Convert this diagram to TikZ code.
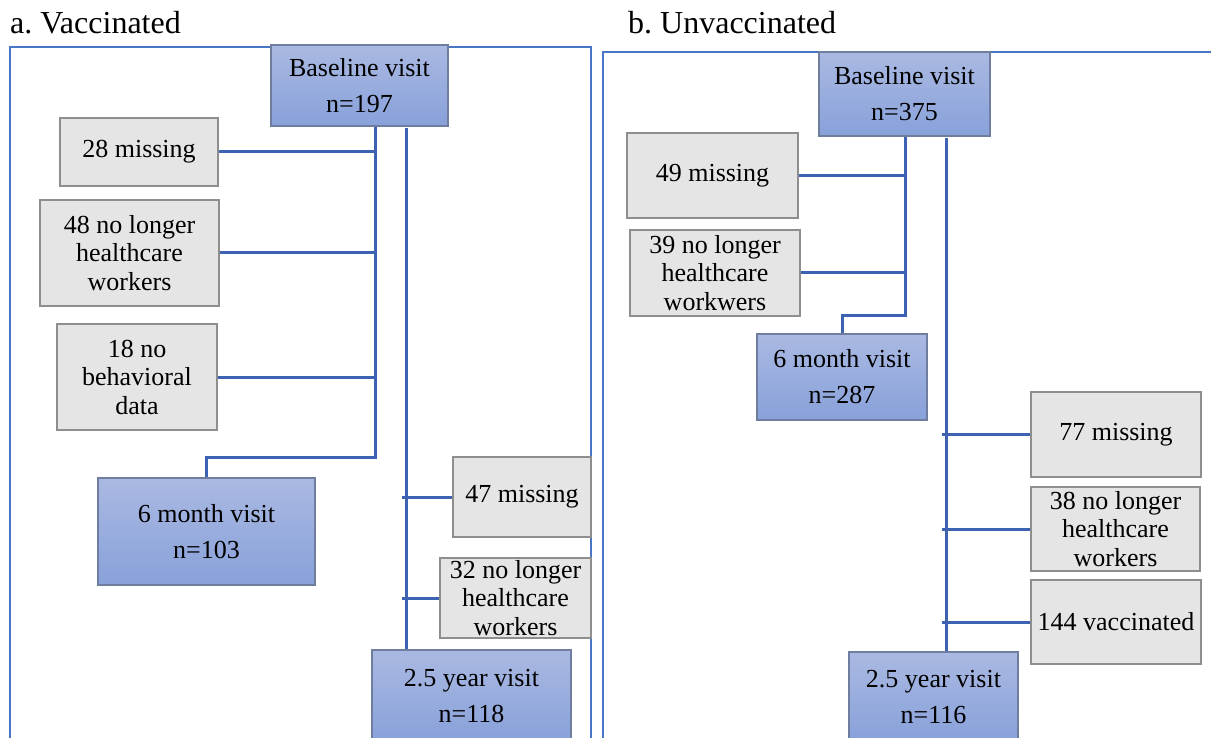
\documentclass[tikz,border=0pt]{standalone}
\usepackage{fontspec}
\setmainfont{Liberation Serif}
\usetikzlibrary{positioning}
\definecolor{visittop}{HTML}{AAB9E2}
\definecolor{visitbot}{HTML}{88A1DA}
\definecolor{visitedge}{HTML}{6F7E9E}
\definecolor{exclfill}{HTML}{E5E5E5}
\definecolor{excledge}{HTML}{8E8E8E}
\definecolor{linkblue}{HTML}{3D62B2}
\definecolor{frameblue}{HTML}{4A76C6}

\begin{document}
\begin{tikzpicture}[x=1pt, y=-1pt]
    % Styles
    \tikzstyle{visit} = [rectangle, draw=visitedge, line width=1.5pt, top color=visittop, bottom color=visitbot, align=center, inner sep=0pt, font=\fontsize{26}{36}\selectfont]
    \tikzstyle{excl} = [rectangle, draw=excledge, line width=1.5pt, fill=exclfill, align=center, inner sep=0pt, font=\fontsize{26}{28.5}\selectfont]
    \tikzstyle{line} = [draw, line width=3pt, linkblue]
    \tikzstyle{panel} = [draw, line width=2pt, frameblue]
    \tikzstyle{title} = [anchor=base west, inner sep=0pt, font=\fontsize{32}{36}\selectfont]

    \useasboundingbox (0,0) rectangle (1211,738);
    \clip (0,0) rectangle (1211,738);

    % Frames and titles
    \path [panel] (10,760) -- (10,47) -- (591,47) -- (591,760);
    \path [panel] (603,760) -- (603,52) -- (1240,52);
    \node [title] (titlea) at (10,34) {a.\ Vaccinated};
    \node [title] (titleb) at (628,34) {b.\ Unvaccinated};

    % Nodes: vaccinated
    \node [visit, minimum width=177pt, minimum height=81pt] (basea) at (359.5,85.5) {Baseline visit\\n=197};
    \node [excl, minimum width=158pt, minimum height=68pt] (miss28a) at (139,152) {28 missing};
    \node [excl, minimum width=179pt, minimum height=106pt] (hcw48a) at (129.5,253) {48 no longer\\healthcare\\workers};
    \node [excl, minimum width=160pt, minimum height=106pt] (beh18a) at (137,377) {18 no\\behavioral\\data};
    \node [visit, minimum width=217pt, minimum height=107pt] (sixa) at (206.5,531.5) {6 month visit\\n=103};
    \node [excl, minimum width=138pt, minimum height=80pt] (miss47a) at (522,497) {47 missing};
    \node [excl, minimum width=151pt, minimum height=80pt] (hcw32a) at (515.5,598) {32 no longer\\healthcare\\workers};
    \node [visit, minimum width=199pt, minimum height=92pt] (yeara) at (471.5,696) {2.5 year visit\\n=118};

    % Nodes: unvaccinated
    \node [visit, minimum width=171pt, minimum height=84pt] (baseb) at (904.5,94) {Baseline visit\\n=375};
    \node [excl, minimum width=171pt, minimum height=85pt] (miss49b) at (712.5,175.5) {49 missing};
    \node [excl, minimum width=170pt, minimum height=86pt] (hcw39b) at (715,273) {39 no longer\\healthcare\\workwers};
    \node [visit, minimum width=170pt, minimum height=86pt] (sixb) at (842,377) {6 month visit\\n=287};
    \node [excl, minimum width=170pt, minimum height=85pt] (miss77b) at (1116,434.5) {77 missing};
    \node [excl, minimum width=169pt, minimum height=84pt] (hcw38b) at (1115.5,529) {38 no longer\\healthcare\\workers};
    \node [excl, minimum width=170pt, minimum height=84pt] (vac144b) at (1116,622) {144 vaccinated};
    \node [visit, minimum width=169pt, minimum height=90pt] (yearb) at (933.5,697) {2.5 year visit\\n=116};

    % Paths: vaccinated
    \coordinate (ja) at (375,457);
    \coordinate (ka) at (406,128);
    \path [line] (basea.south -| ja) -- (ja) -| (sixa.north);
    \path [line] (miss28a.east) -- (miss28a.east -| ja);
    \path [line] (hcw48a.east) -- (hcw48a.east -| ja);
    \path [line] (beh18a.east) -- (beh18a.east -| ja);
    \path [line] (ka) -- (ka |- yeara.north);
    \path [line] ([xshift=-4pt]ka |- miss47a.west) -- (miss47a.west);
    \path [line] ([xshift=-4pt]ka |- hcw32a.west) -- (hcw32a.west);

    % Paths: unvaccinated
    \coordinate (jb) at (905,316);
    \coordinate (kb) at (946,138);
    \path [line] (baseb.south -| jb) -- (jb) -| (sixb.north);
    \path [line] (miss49b.east) -- (miss49b.east -| jb);
    \path [line] (hcw39b.east) -- (hcw39b.east -| jb);
    \path [line] (kb) -- (kb |- yearb.north);
    \path [line] ([xshift=-4pt]kb |- miss77b.west) -- (miss77b.west);
    \path [line] ([xshift=-4pt]kb |- hcw38b.west) -- (hcw38b.west);
    \path [line] ([xshift=-4pt]kb |- vac144b.west) -- (vac144b.west);
\end{tikzpicture}
\end{document}
